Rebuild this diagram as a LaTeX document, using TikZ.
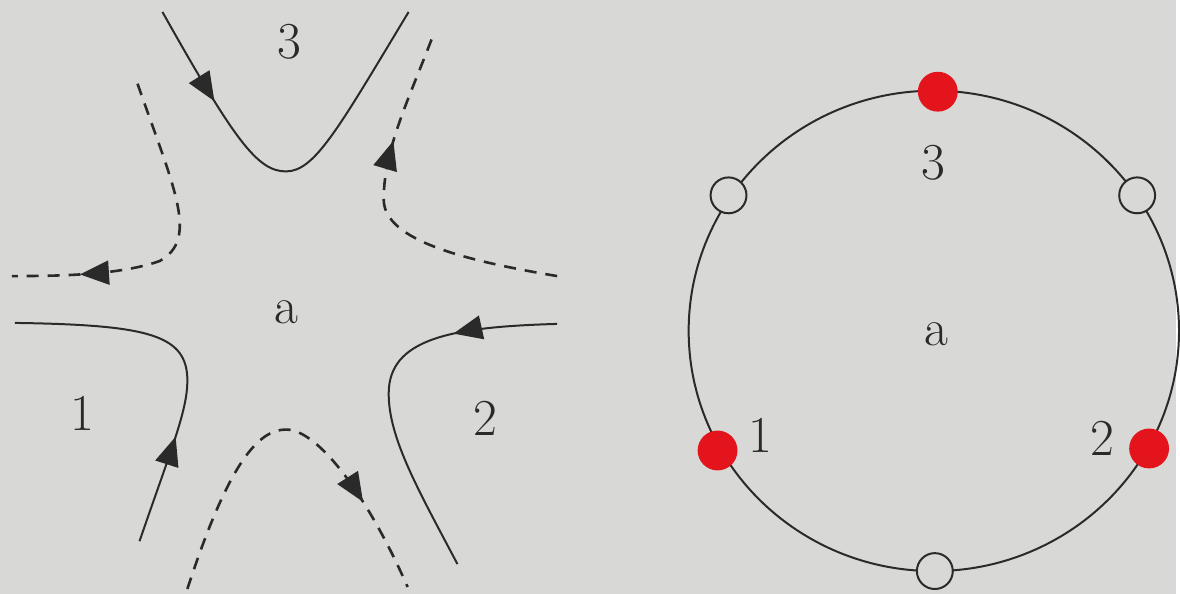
\documentclass[tikz,border=0pt]{standalone}
\usetikzlibrary{arrows.meta,decorations.markings}
\definecolor{bggray}{HTML}{D8D8D6}
\definecolor{linegray}{HTML}{2A2A2A}
\definecolor{dotred}{HTML}{E3141B}
\tikzset{
  orbit/.style={draw=linegray, line width=1pt},
  ghost/.style={orbit, line width=1.3pt, dash pattern=on 6pt off 4.5pt},
  midarrow/.style={
    postaction={decorate},
    decoration={markings,
      mark=at position #1 with {\arrow{Triangle[length=14.5pt,width=12pt]}}}
  },
  tag/.style={font=\fontsize{26}{30}\selectfont, text=linegray, inner sep=0pt},
  hitdot/.style={circle, fill=dotred, minimum size=20pt, inner sep=0pt},
  freedot/.style={circle, draw=linegray, line width=1pt, fill=bggray, minimum size=18pt, inner sep=0pt}
}

\begin{document}
\begin{tikzpicture}[x=0.5pt, y=-0.5pt]

% Canvas
\fill[bggray] (0,0) rectangle (1180,596);

% Left panel: solid branches
\draw[orbit, midarrow=0.25] (163,12) .. controls (235,140) and (258,172) .. (287,172)
  .. controls (316,172) and (340,128) .. (410,12);
\draw[orbit, midarrow=0.3] (140,543) .. controls (172,450) and (188,412) .. (188,382)
  .. controls (188,336) and (150,326) .. (15,324);
\draw[orbit, midarrow=0.27] (559,325) .. controls (452,328) and (390,340) .. (390,395)
  .. controls (390,440) and (420,492) .. (459,566);

% Left panel: dashed branches
\draw[ghost, midarrow=0.8] (138,84) .. controls (175,190) and (200,240) .. (160,262)
  .. controls (120,276) and (60,277) .. (12,277);
\draw[ghost, midarrow=0.7] (559,277) .. controls (470,262) and (385,242) .. (385,200)
  .. controls (385,150) and (410,100) .. (434,37);
\draw[ghost, midarrow=0.76] (188,591) .. controls (230,462) and (260,431) .. (287,431)
  .. controls (320,431) and (370,500) .. (409,589);

% Left panel: labels
\node[tag] (lthree) at (290,42) {3};
\node[tag] (lcentre) at (287,313) {a};
\node[tag] (lone) at (83,415) {1};
\node[tag] (ltwo) at (487,420) {2};

% Right panel: ring
\coordinate (ring) at (937,332);
\draw[orbit] (ring) ellipse [x radius=246, y radius=241];

% Right panel: points on the ring
\node[freedot] (ptopleft) at (731,196) {};
\node[freedot] (ptopright) at (1141,196) {};
\node[freedot] (pbottom) at (938,573) {};
\node[hitdot] (pthree) at (941,92) {};
\node[hitdot] (pone) at (720,452) {};
\node[hitdot] (ptwo) at (1153,450) {};

% Right panel: labels
\node[tag] (rthree) at (937,163) {3};
\node[tag] (rcentre) at (940,335) {a};
\node[tag] (rone) at (763,437) {1};
\node[tag] (rtwo) at (1106,440) {2};

\end{tikzpicture}
\end{document}
